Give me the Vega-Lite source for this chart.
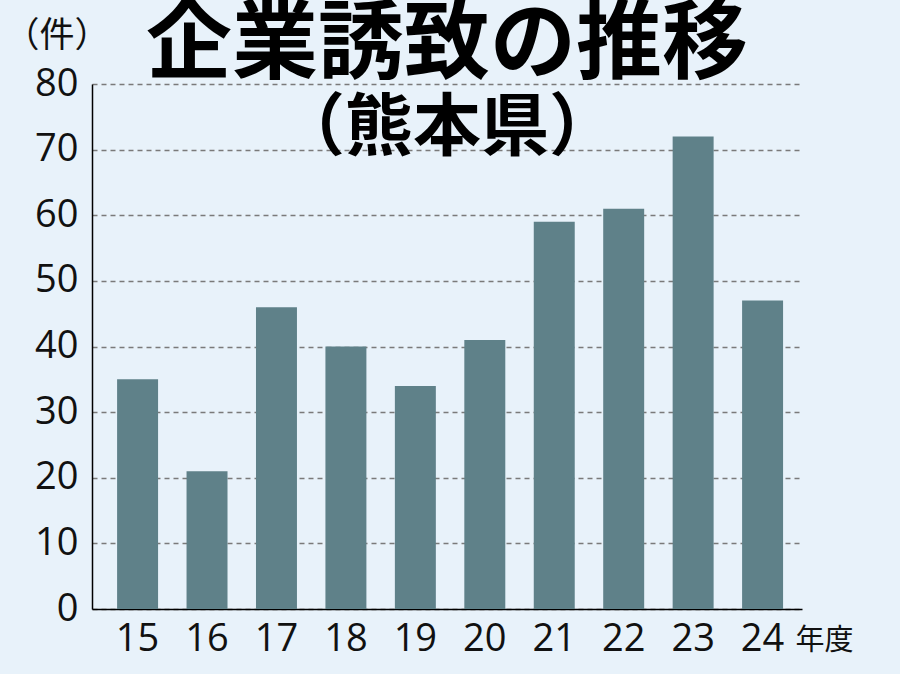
{
  "$schema": "https://vega.github.io/schema/vega-lite/v6.json",
  "width": 710,
  "height": 525,
  "autosize": {"type": "none"},
  "padding": {"left": 92, "top": 84, "right": 98, "bottom": 65},
  "background": "#e8f2fa",
  "title": {
    "text": "企業誘致の推移",
    "subtitle": "（熊本県）",
    "anchor": "middle",
    "frame": "group",
    "font": "Noto Sans CJK JP",
    "fontSize": 86,
    "fontWeight": "bold",
    "color": "#000000",
    "subtitleFont": "Noto Sans CJK JP",
    "subtitleFontSize": 68,
    "subtitleFontWeight": "bold",
    "subtitleColor": "#000000",
    "subtitlePadding": 6,
    "offset": -147
  },
  "data": {
    "values": [
      {"year": "15", "count": 35},
      {"year": "16", "count": 21},
      {"year": "17", "count": 46},
      {"year": "18", "count": 40},
      {"year": "19", "count": 34},
      {"year": "20", "count": 41},
      {"year": "21", "count": 59},
      {"year": "22", "count": 61},
      {"year": "23", "count": 72},
      {"year": "24", "count": 47}
    ]
  },
  "mark": {"type": "bar", "color": "#5f8189"},
  "encoding": {
    "x": {
      "field": "year",
      "type": "ordinal",
      "sort": null,
      "scale": {"paddingInner": 0.41, "paddingOuter": 0.317, "align": 0.57},
      "axis": {
        "title": "年度",
        "titleFont": "Noto Sans CJK JP",
        "titleFontSize": 29,
        "titleFontWeight": "normal",
        "titleColor": "#111111",
        "titleAlign": "left",
        "titleBaseline": "top",
        "titleAnchor": "start",
        "titleX": 703,
        "titleY": 17,
        "labelAngle": 0,
        "labelFont": "Open Sans",
        "labelFontSize": 38,
        "labelColor": "#111111",
        "labelPadding": 11,
        "ticks": false,
        "domain": true,
        "domainColor": "#000000",
        "domainWidth": 1.5,
        "grid": false
      }
    },
    "y": {
      "field": "count",
      "type": "quantitative",
      "scale": {"domain": [0, 80]},
      "axis": {
        "values": [0, 10, 20, 30, 40, 50, 60, 70, 80],
        "title": "（件）",
        "titleFont": "Noto Sans CJK JP",
        "titleFontSize": 35,
        "titleFontWeight": "normal",
        "titleColor": "#111111",
        "titleAngle": 0,
        "titleAlign": "left",
        "titleBaseline": "top",
        "titleX": -88,
        "titleY": -66,
        "labelFont": "Open Sans",
        "labelFontSize": 38,
        "labelColor": "#111111",
        "labelPadding": 14,
        "ticks": false,
        "domain": true,
        "domainColor": "#000000",
        "domainWidth": 1.5,
        "grid": true,
        "gridColor": "#7a7a7a",
        "gridDash": [5, 4],
        "gridWidth": 1.5
      }
    }
  },
  "config": {"view": {"stroke": null}}
}
